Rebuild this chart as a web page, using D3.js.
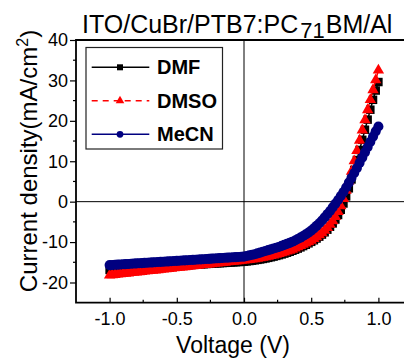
<!DOCTYPE html>
<html>
<head>
<meta charset="utf-8">
<script src="https://cdn.jsdelivr.net/npm/d3@7"></script>
<style>
  body { margin: 0; background: #fff; }
  svg { display: block; font-family: "Liberation Sans", Arial, sans-serif; }
</style>
</head>
<body>
<svg id="jv_svg" width="404" height="359"></svg>
<script>
// J-V curves, voltage in V, current density in mA/cm2
const voltage = [
  -1.00, -0.98, -0.96, -0.94, -0.92, -0.90, -0.88, -0.86, -0.84, -0.82,
  -0.80, -0.78, -0.76, -0.74, -0.72, -0.70, -0.68, -0.66, -0.64, -0.62,
  -0.60, -0.58, -0.56, -0.54, -0.52, -0.50, -0.48, -0.46, -0.44, -0.42,
  -0.40, -0.38, -0.36, -0.34, -0.32, -0.30, -0.28, -0.26, -0.24, -0.22,
  -0.20, -0.18, -0.16, -0.14, -0.12, -0.10, -0.08, -0.06, -0.04, -0.02,
   0.00,  0.02,  0.04,  0.06,  0.08,  0.10,  0.12,  0.14,  0.16,  0.18,
   0.20,  0.22,  0.24,  0.26,  0.28,  0.30,  0.32,  0.34,  0.36,  0.38,
   0.40,  0.42,  0.44,  0.46,  0.48,  0.50,  0.52,  0.54,  0.56,  0.58,
   0.60,  0.62,  0.64,  0.66,  0.68,  0.70,  0.72,  0.74,  0.76,  0.78,
   0.80,  0.82,  0.84,  0.86,  0.88,  0.90,  0.92,  0.94,  0.96,  0.98,
   1.00
];

const dmf = [
  -16.90, -16.86, -16.82, -16.78, -16.74, -16.70, -16.66, -16.62, -16.58, -16.54,
  -16.49, -16.45, -16.41, -16.37, -16.33, -16.29, -16.25, -16.21, -16.17, -16.13,
  -16.08, -16.04, -16.00, -15.96, -15.92, -15.88, -15.83, -15.79, -15.75, -15.71,
  -15.67, -15.63, -15.59, -15.55, -15.51, -15.47, -15.42, -15.38, -15.34, -15.30,
  -15.26, -15.22, -15.18, -15.14, -15.10, -15.06, -15.01, -14.97, -14.93, -14.89,
  -14.85, -14.77, -14.69, -14.60, -14.50, -14.40, -14.29, -14.17, -14.04, -13.90,
  -13.75, -13.59, -13.42, -13.24, -13.05, -12.85, -12.63, -12.40, -12.15, -11.89,
  -11.61, -11.31, -10.99, -10.66, -10.31, -9.94, -9.55, -9.12, -8.66, -8.15,
  -7.58, -6.94, -6.21, -5.38, -4.42, -3.30, -2.00, -0.45, 1.30, 3.30,
  5.50, 7.85, 10.30, 12.80, 15.30, 17.80, 20.30, 22.75, 25.20, 27.50,
  29.60
];

const dmso = [
  -18.20, -18.13, -18.05, -17.98, -17.90, -17.83, -17.76, -17.68, -17.61, -17.53,
  -17.46, -17.39, -17.31, -17.24, -17.16, -17.09, -17.02, -16.94, -16.87, -16.79,
  -16.72, -16.65, -16.57, -16.50, -16.42, -16.35, -16.28, -16.20, -16.13, -16.05,
  -15.98, -15.91, -15.83, -15.76, -15.68, -15.61, -15.54, -15.46, -15.39, -15.31,
  -15.24, -15.17, -15.09, -15.02, -14.94, -14.87, -14.80, -14.72, -14.65, -14.57,
  -14.50, -14.42, -14.34, -14.25, -14.15, -14.05, -13.94, -13.82, -13.69, -13.55,
  -13.40, -13.24, -13.07, -12.89, -12.70, -12.50, -12.28, -12.05, -11.80, -11.53,
  -11.24, -10.93, -10.62, -10.30, -9.95, -9.58, -9.18, -8.74, -8.26, -7.72,
  -7.12, -6.44, -5.66, -4.76, -3.72, -2.50, -1.05, 0.70, 2.75, 5.05,
  7.50, 10.05, 12.60, 15.15, 17.70, 20.20, 22.70, 25.20, 27.65, 30.10,
  32.50
];

const mecn = [
  -15.70, -15.66, -15.62, -15.57, -15.53, -15.49, -15.45, -15.41, -15.36, -15.32,
  -15.28, -15.24, -15.20, -15.15, -15.11, -15.07, -15.03, -14.99, -14.94, -14.90,
  -14.86, -14.82, -14.78, -14.73, -14.69, -14.65, -14.61, -14.57, -14.52, -14.48,
  -14.44, -14.40, -14.36, -14.31, -14.27, -14.23, -14.19, -14.15, -14.10, -14.06,
  -14.02, -13.98, -13.94, -13.89, -13.85, -13.81, -13.77, -13.73, -13.68, -13.64,
  -13.60, -13.45, -13.30, -13.15, -13.00, -12.80, -12.60, -12.40, -12.20, -12.00,
  -11.80, -11.60, -11.40, -11.20, -10.95, -10.70, -10.45, -10.20, -9.90, -9.60,
  -9.25, -8.90, -8.50, -8.10, -7.65, -7.15, -6.60, -6.00, -5.35, -4.65,
  -3.90, -3.10, -2.30, -1.40, -0.50, 0.40, 1.40, 2.40, 3.50, 4.70,
  5.90, 7.10, 8.30, 9.60, 10.90, 12.20, 13.50, 14.80, 16.10, 17.40,
  18.60
];

const seriesNames = ['DMF', 'DMSO', 'MeCN'];
const xTicks = [-1.0, -0.5, 0.0, 0.5, 1.0];
const yTicks = [-20, -10, 0, 10, 20, 30, 40];

const colors = {DMF: '#000000', DMSO: '#ff0000', MeCN: '#000080'};
const symbols = {DMF: d3.symbolSquare, DMSO: d3.symbolTriangle, MeCN: d3.symbolCircle};
const symSize = {DMF: 72, DMSO: 56, MeCN: 80};
const dashes = {DMF: null, DMSO: '6,5', MeCN: null};

var svg, xScale, yScale;
const plot = {left: 76, right: 412, top: 40, bottom: 302.7};

// hyphen instead of unicode minus, like the original figure
const hyphen = f => d => f(d).replace('\u2212', '-');

function drawChart() {
  svg = d3.select('#jv_svg');

  xScale = d3.scaleLinear().domain([-1.25, 1.25]).range([plot.left, plot.right]);
  yScale = d3.scaleLinear().domain([-25, 40]).range([plot.bottom, plot.top]);

  const data = [
    {name: 'DMF', values: dmf},
    {name: 'DMSO', values: dmso},
    {name: 'MeCN', values: mecn}
  ];

  // zero lines
  svg.append('line')
    .attr('x1', xScale(0)).attr('x2', xScale(0))
    .attr('y1', plot.top).attr('y2', plot.bottom)
    .attr('stroke', '#000').attr('stroke-width', 1);
  svg.append('line')
    .attr('x1', plot.left).attr('x2', plot.right)
    .attr('y1', yScale(0)).attr('y2', yScale(0))
    .attr('stroke', '#000').attr('stroke-width', 1);

  // curves
  const line = d3.line()
    .x((d, i) => xScale(voltage[i]))
    .y(d => yScale(d));

  data.forEach(s => {
    const g = svg.append('g').attr('class', 'series_' + s.name);
    g.append('path')
      .attr('d', line(s.values))
      .attr('fill', 'none')
      .attr('stroke', colors[s.name])
      .attr('stroke-width', 1.5)
      .attr('stroke-dasharray', dashes[s.name]);
    g.selectAll('path.mark')
      .data(s.values)
      .join('path')
        .attr('class', 'mark')
        .attr('transform', (d, i) => `translate(${xScale(voltage[i])},${yScale(d)})`)
        .attr('d', d3.symbol().type(symbols[s.name]).size(symSize[s.name]))
        .attr('fill', colors[s.name]);
  });

  // frame
  svg.append('path')
    .attr('d', `M${plot.right},${plot.top}H${plot.left}V${plot.bottom}H${plot.right}`)
    .attr('fill', 'none')
    .attr('stroke', '#000')
    .attr('stroke-width', 1.8);

  // x axis (ticks pointing in)
  const xAxis = d3.axisBottom(xScale)
    .tickValues(xTicks)
    .tickSize(-5)
    .tickPadding(10)
    .tickFormat(hyphen(d3.format('.1f')));
  const xg = svg.append('g')
    .attr('transform', `translate(0,${plot.bottom})`)
    .call(xAxis);
  xg.select('.domain').remove();
  xg.selectAll('text').style('font-size', '18px').attr('fill', '#000');
  xg.selectAll('line').attr('stroke-width', 1.2);
  xg.selectAll('.minor')
    .data([-0.75, -0.25, 0.25, 0.75])
    .join('line')
      .attr('class', 'minor')
      .attr('x1', d => xScale(d)).attr('x2', d => xScale(d))
      .attr('y1', 0).attr('y2', -3)
      .attr('stroke', '#000').attr('stroke-width', 1.2);

  // y axis (ticks pointing out)
  const yAxis = d3.axisLeft(yScale)
    .tickValues(yTicks)
    .tickSize(6)
    .tickPadding(2)
    .tickFormat(hyphen(d3.format('d')));
  const yg = svg.append('g')
    .attr('transform', `translate(${plot.left},0)`)
    .call(yAxis);
  yg.select('.domain').remove();
  yg.selectAll('text').style('font-size', '18px').attr('fill', '#000');
  yg.selectAll('line').attr('stroke-width', 1.2);
  yg.selectAll('.minor')
    .data([-15, -5, 5, 15, 25, 35])
    .join('line')
      .attr('class', 'minor')
      .attr('y1', d => yScale(d)).attr('y2', d => yScale(d))
      .attr('x1', 0).attr('x2', -3)
      .attr('stroke', '#000').attr('stroke-width', 1.2);

  // axis titles
  svg.append('text')
    .attr('x', 233).attr('y', 353)
    .attr('text-anchor', 'middle')
    .style('font-size', '23px')
    .text('Voltage (V)');

  const yt = svg.append('text')
    .attr('transform', 'translate(37,161) rotate(-90)')
    .attr('text-anchor', 'middle')
    .style('font-size', '24px');
  yt.append('tspan').text('Current density(mA/cm');
  yt.append('tspan').attr('dy', -9).style('font-size', '16px').text('2');
  yt.append('tspan').attr('dy', 9).text(')');

  // title
  const title = svg.append('text')
    .attr('x', 82).attr('y', 33)
    .style('font-size', '25px');
  title.append('tspan').text('ITO/CuBr/PTB7:PC');
  title.append('tspan').attr('dy', 5).attr('dx', 2).style('font-size', '22px').text('71');
  title.append('tspan').attr('dy', -5).attr('dx', 1).text('BM/Al');

  // legend
  const lg = svg.append('g');
  lg.append('rect')
    .attr('x', 86).attr('y', 47.5)
    .attr('width', 136.5).attr('height', 101.5)
    .attr('fill', '#fff')
    .attr('stroke', '#222').attr('stroke-width', 1.2);
  const rowY = d3.scalePoint().domain(seriesNames).range([67.3, 134.3]);
  seriesNames.forEach(name => {
    const y = rowY(name);
    lg.append('line')
      .attr('x1', 91.7).attr('x2', 149.3)
      .attr('y1', y).attr('y2', y)
      .attr('stroke', colors[name]).attr('stroke-width', 1.5)
      .attr('stroke-dasharray', dashes[name]);
    lg.append('path')
      .attr('transform', `translate(120,${y})`)
      .attr('d', d3.symbol().type(symbols[name]).size(name == 'DMSO' ? 32 : 36))
      .attr('fill', colors[name]);
    lg.append('text')
      .attr('x', 157).attr('y', y + 7)
      .style('font-size', '20px')
      .style('font-weight', 'bold')
      .text(name);
  });
}

document.addEventListener('DOMContentLoaded', drawChart);
</script>
</body>
</html>
